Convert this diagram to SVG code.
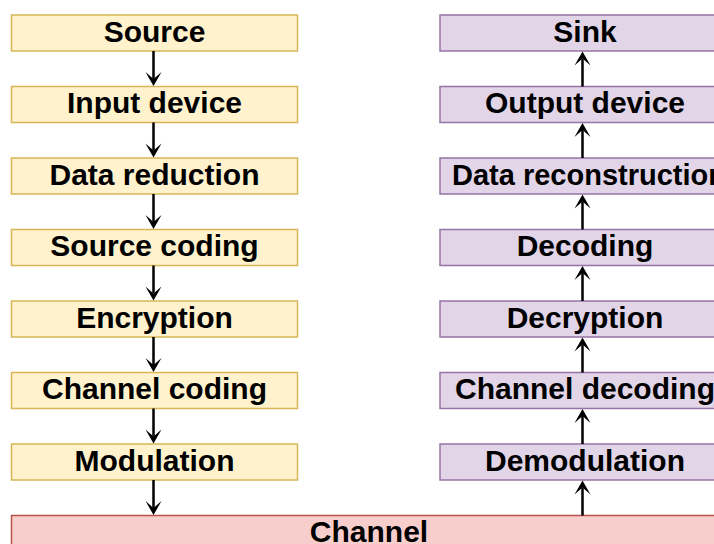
<svg xmlns="http://www.w3.org/2000/svg" width="714" height="544" viewBox="0 0 714 544">
<style>
.l rect{fill:#fff2cc;stroke:#d6b656;stroke-width:1.5}
.r rect{fill:#e1d5e7;stroke:#9673a6;stroke-width:1.5}
.c rect{fill:#f8cecc;stroke:#b85450;stroke-width:1.5}
text{font-family:"Liberation Sans",Arial,Helvetica,sans-serif;font-weight:bold;font-size:30px;fill:#000;text-anchor:middle}
#edges line{stroke:#000;stroke-width:2.5}
#edges polygon{fill:#000;stroke:none}
</style>
<g id="source" class="l"><rect x="11.5" y="15" width="286" height="36"/><text x="154.5" y="41.5">Source</text></g>
<g id="input-device" class="l"><rect x="11.5" y="86.5" width="286" height="36"/><text x="154.5" y="113">Input device</text></g>
<g id="data-reduction" class="l"><rect x="11.5" y="158" width="286" height="36"/><text x="154.5" y="184.5">Data reduction</text></g>
<g id="source-coding" class="l"><rect x="11.5" y="229.5" width="286" height="36"/><text x="154.5" y="256">Source coding</text></g>
<g id="encryption" class="l"><rect x="11.5" y="301" width="286" height="36"/><text x="154.5" y="327.5">Encryption</text></g>
<g id="channel-coding" class="l"><rect x="11.5" y="372.5" width="286" height="36"/><text x="154.5" y="399">Channel coding</text></g>
<g id="modulation" class="l"><rect x="11.5" y="444" width="286" height="36"/><text x="154.5" y="470.5">Modulation</text></g>
<g id="sink" class="r"><rect x="440" y="15" width="286" height="36"/><text x="585" y="41.5">Sink</text></g>
<g id="output-device" class="r"><rect x="440" y="86.5" width="286" height="36"/><text x="585" y="113">Output device</text></g>
<g id="data-reconstruction" class="r"><rect x="440" y="158" width="286" height="36"/><text x="452" y="184.5" style="text-anchor:start;font-size:29px">Data reconstruction</text></g>
<g id="decoding" class="r"><rect x="440" y="229.5" width="286" height="36"/><text x="585" y="256">Decoding</text></g>
<g id="decryption" class="r"><rect x="440" y="301" width="286" height="36"/><text x="585" y="327.5">Decryption</text></g>
<g id="channel-decoding" class="r"><rect x="440" y="372.5" width="286" height="36"/><text x="585" y="399">Channel decoding</text></g>
<g id="demodulation" class="r"><rect x="440" y="444" width="286" height="36"/><text x="585" y="470.5">Demodulation</text></g>
<g id="channel" class="c"><rect x="11.5" y="515.5" width="715" height="36"/><text x="369" y="542">Channel</text></g>
<g id="edges">
<line x1="153.5" y1="51" x2="153.5" y2="79"/><polygon points="153.5,86 145.5,72 153.5,79 161.5,72"/>
<line x1="153.5" y1="122.5" x2="153.5" y2="150.5"/><polygon points="153.5,157.5 145.5,143.5 153.5,150.5 161.5,143.5"/>
<line x1="153.5" y1="194" x2="153.5" y2="222"/><polygon points="153.5,229 145.5,215 153.5,222 161.5,215"/>
<line x1="153.5" y1="265.5" x2="153.5" y2="293.5"/><polygon points="153.5,300.5 145.5,286.5 153.5,293.5 161.5,286.5"/>
<line x1="153.5" y1="337" x2="153.5" y2="365"/><polygon points="153.5,372 145.5,358 153.5,365 161.5,358"/>
<line x1="153.5" y1="408.5" x2="153.5" y2="436.5"/><polygon points="153.5,443.5 145.5,429.5 153.5,436.5 161.5,429.5"/>
<line x1="153.5" y1="480" x2="153.5" y2="508"/><polygon points="153.5,515 145.5,501 153.5,508 161.5,501"/>
<line x1="582.5" y1="515.5" x2="582.5" y2="487.5"/><polygon points="582.5,480.5 574.5,494.5 582.5,487.5 590.5,494.5"/>
<line x1="582.5" y1="444" x2="582.5" y2="416"/><polygon points="582.5,409 574.5,423 582.5,416 590.5,423"/>
<line x1="582.5" y1="372.5" x2="582.5" y2="344.5"/><polygon points="582.5,337.5 574.5,351.5 582.5,344.5 590.5,351.5"/>
<line x1="582.5" y1="301" x2="582.5" y2="273"/><polygon points="582.5,266 574.5,280 582.5,273 590.5,280"/>
<line x1="582.5" y1="229.5" x2="582.5" y2="201.5"/><polygon points="582.5,194.5 574.5,208.5 582.5,201.5 590.5,208.5"/>
<line x1="582.5" y1="158" x2="582.5" y2="130"/><polygon points="582.5,123 574.5,137 582.5,130 590.5,137"/>
<line x1="582.5" y1="86.5" x2="582.5" y2="58.5"/><polygon points="582.5,51.5 574.5,65.5 582.5,58.5 590.5,65.5"/>
</g>
</svg>
